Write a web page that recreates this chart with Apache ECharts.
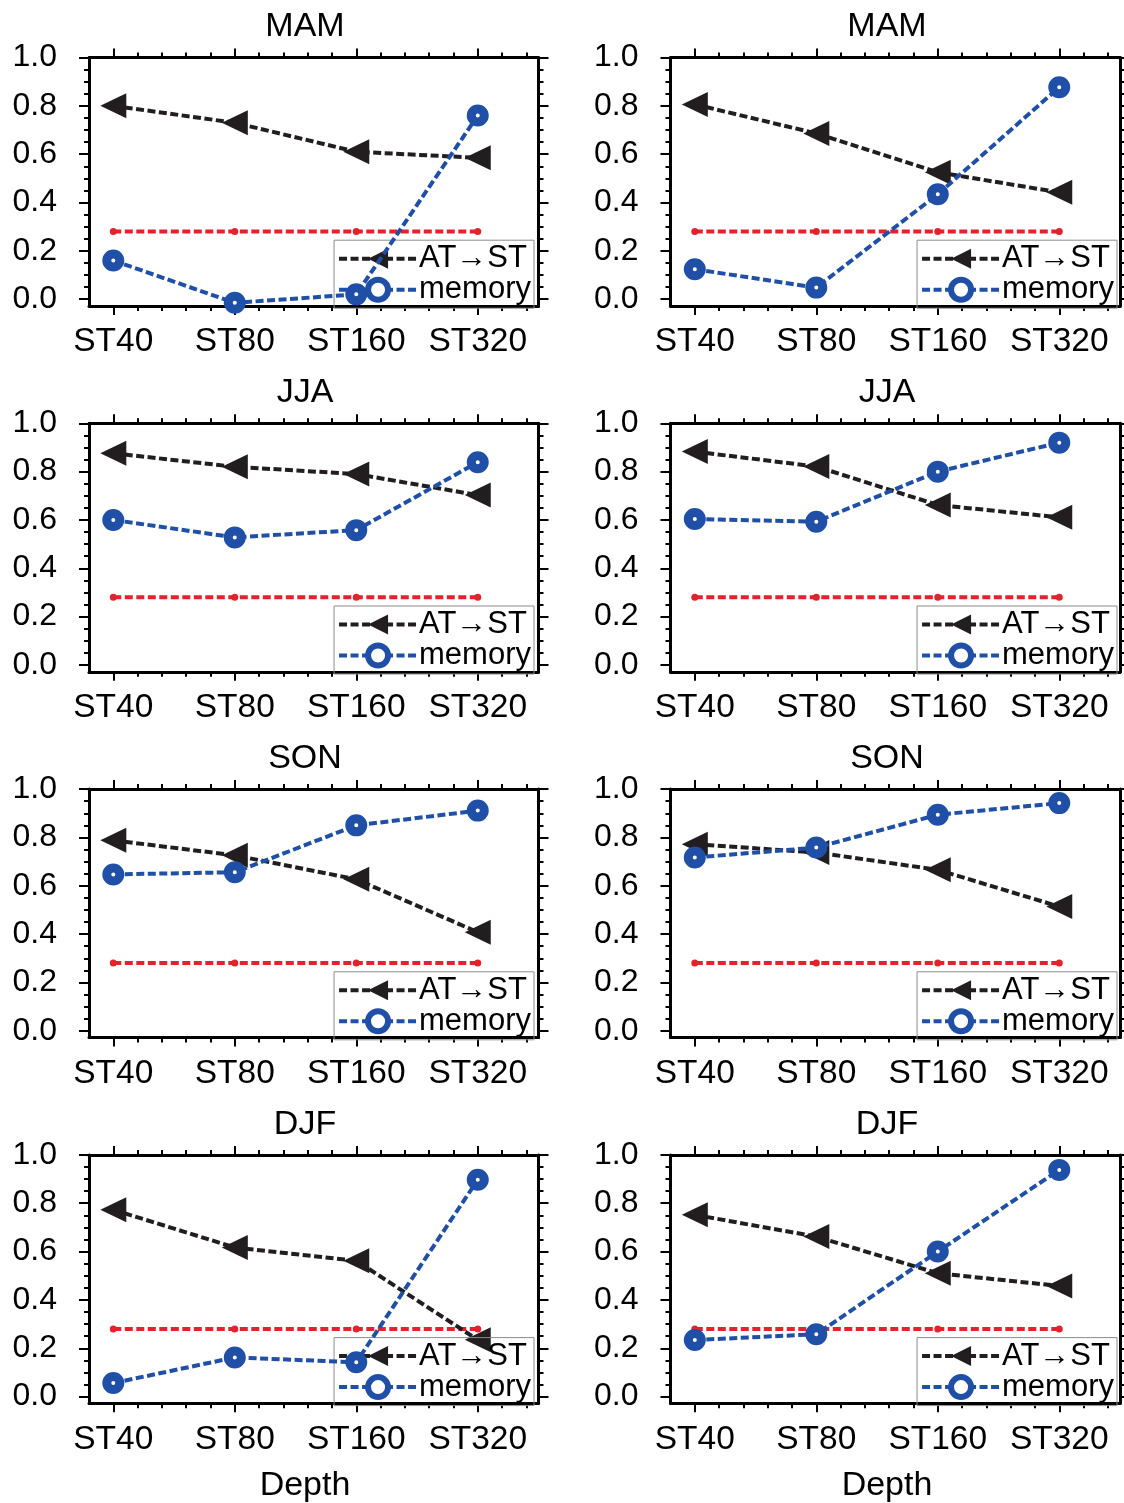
<!DOCTYPE html>
<html>
<head>
<meta charset="utf-8">
<script src="https://cdn.jsdelivr.net/npm/echarts@6/dist/echarts.min.js"></script>
<style>
  html, body { margin: 0; padding: 0; background: #fff; }
  #chart { width: 1124px; height: 1503px; }
</style>
</head>
<body>
<div id="chart"></div>
<script>
// depth categories on the x axis
const categories = ['ST40', 'ST80', 'ST160', 'ST320'];
const yTicks = [0, 0.2, 0.4, 0.6, 0.8, 1.0];
const threshold = [0.28, 0.28, 0.28, 0.28];

// AT->ST and memory per season, left column (a) and right column (b)
const atstMAMa = [0.80, 0.73, 0.61, 0.585];
const memMAMa = [0.16, -0.015, 0.02, 0.76];
const atstMAMb = [0.806, 0.686, 0.525, 0.442];
const memMAMb = [0.124, 0.048, 0.434, 0.877];
const atstJJAa = [0.876, 0.82, 0.79, 0.703];
const memJJAa = [0.60, 0.528, 0.558, 0.839];
const atstJJAb = [0.883, 0.821, 0.662, 0.611];
const memJJAb = [0.604, 0.593, 0.80, 0.92];
const atstSONa = [0.788, 0.726, 0.627, 0.408];
const memSONa = [0.647, 0.656, 0.85, 0.911];
const atstSONb = [0.772, 0.738, 0.666, 0.514];
const memSONb = [0.717, 0.758, 0.894, 0.942];
const atstDJFa = [0.773, 0.617, 0.562, 0.235];
const memDJFa = [0.056, 0.162, 0.142, 0.897];
const atstDJFb = [0.752, 0.662, 0.51, 0.458];
const memDJFb = [0.234, 0.258, 0.60, 0.938];

const panels = [
  { title: 'MAM', atst: atstMAMa, mem: memMAMa },
  { title: 'MAM', atst: atstMAMb, mem: memMAMb },
  { title: 'JJA', atst: atstJJAa, mem: memJJAa },
  { title: 'JJA', atst: atstJJAb, mem: memJJAb },
  { title: 'SON', atst: atstSONa, mem: memSONa },
  { title: 'SON', atst: atstSONb, mem: memSONb },
  { title: 'DJF', atst: atstDJFa, mem: memDJFa },
  { title: 'DJF', atst: atstDJFb, mem: memDJFb }
];

const FONT = '"Liberation Sans", Arial, Helvetica, sans-serif';
const BLACK = '#221e1f';
const BLUE = '#1f4fa6';
const RED = '#e4222b';

const colLeft = [89, 670.5];
const rowTop = [57.5, 423.3, 789.1, 1154.9];
const plotW = 449.5;
const xMin = -0.2, xMax = 3.5;
const yMin = -0.028, yMax = 1.0;
const plotH = (yMax - yMin) * 241.7;

// tick positions
const xMajor = categories.map((c, i) => i);
const xMinor = [];
for (let k = 1; k < 18; k++) { if (k % 5 !== 0) xMinor.push(+(k * 0.2).toFixed(2)); }
const yMinor = [];
for (let k = 1; k < 20; k++) { if (k % 4 !== 0) yMinor.push(+(k * 0.05).toFixed(2)); }

const toPts = arr => arr.map((v, i) => [i, v]);

const grid = [], xAxis = [], yAxis = [], series = [], title = [], legend = [];

function xAx(g, pos, major, labels) {
  return {
    gridIndex: g, type: 'value', min: xMin, max: xMax, position: pos,
    axisLine: { show: major, onZero: false, lineStyle: { color: '#000', width: 3 } },
    axisTick: { show: true, customValues: major ? xMajor : xMinor, length: major ? 9 : 5, lineStyle: { color: '#000', width: 2 } },
    axisLabel: labels ? {
      show: true, customValues: xMajor, margin: 19,
      formatter: v => categories[Math.round(v)],
      color: '#000', fontSize: 33.5, fontFamily: FONT, lineHeight: 34
    } : { show: false },
    splitLine: { show: false }
  };
}
function yAx(g, pos, major, labels) {
  return {
    gridIndex: g, type: 'value', min: yMin, max: yMax, position: pos,
    axisLine: { show: major, onZero: false, lineStyle: { color: '#000', width: 3 } },
    axisTick: { show: true, customValues: major ? yTicks : yMinor, length: major ? 10 : 5, lineStyle: { color: '#000', width: 2 } },
    axisLabel: labels ? {
      show: true, customValues: yTicks, margin: 32,
      formatter: v => v.toFixed(1),
      color: '#000', fontSize: 32, fontFamily: FONT
    } : { show: false },
    splitLine: { show: false }
  };
}

panels.forEach((p, i) => {
  const col = i % 2, row = Math.floor(i / 2);
  const left = colLeft[col], top = rowTop[row];
  grid.push({ left: left, top: top, width: plotW, height: plotH, containLabel: false, outerBoundsMode: 'none' });

  const xi = xAxis.length, yi = yAxis.length;
  xAxis.push(xAx(i, 'bottom', true, true));
  xAxis.push(xAx(i, 'bottom', false, false));
  xAxis.push(xAx(i, 'top', true, false));
  xAxis.push(xAx(i, 'top', false, false));
  yAxis.push(yAx(i, 'left', true, true));
  yAxis.push(yAx(i, 'left', false, false));
  yAxis.push(yAx(i, 'right', true, false));
  yAxis.push(yAx(i, 'right', false, false));

  const center = col === 0 ? 305 : 887;
  title.push({
    text: p.title, left: center, top: top - 47.5, textAlign: 'center', padding: 0,
    textStyle: { fontSize: 34, fontWeight: 'normal', color: '#000', fontFamily: FONT, lineHeight: 34 }
  });
  if (row === 3) {
    title.push({
      text: 'Depth', left: center, top: 1469, textAlign: 'center', padding: 0,
      textStyle: { fontSize: 34, fontWeight: 'normal', color: '#000', fontFamily: FONT, lineHeight: 34 }
    });
  }

  series.push({
    name: 'threshold', type: 'line', xAxisIndex: xi, yAxisIndex: yi,
    data: toPts(threshold), symbol: 'circle', symbolSize: 7, clip: false, z: 2,
    itemStyle: { color: RED },
    lineStyle: { color: RED, width: 4, type: [8, 3.5] },
    silent: true, animation: false
  });
  series.push({
    name: 'AT→ST', type: 'line', xAxisIndex: xi, yAxisIndex: yi,
    data: toPts(p.atst), symbol: 'triangle', symbolSize: [25, 26], symbolRotate: 90, clip: false, z: 3,
    itemStyle: { color: BLACK },
    lineStyle: { color: BLACK, width: 4, type: [8, 3.5] },
    animation: false
  });
  series.push({
    name: 'memory', type: 'line', xAxisIndex: xi, yAxisIndex: yi,
    data: toPts(p.mem), symbol: 'circle', symbolSize: 13, clip: false, z: 4,
    itemStyle: { color: '#fff', borderColor: BLUE, borderWidth: 9 },
    lineStyle: { color: BLUE, width: 4, type: [8, 3.5] },
    animation: false
  });

  legend.push({
    orient: 'vertical',
    right: col === 0 ? 1124 - 534 : 1124 - 1117,
    top: top + 182.7,
    padding: [3, 3, 3, 3],
    itemGap: 0,
    itemWidth: 78,
    itemHeight: 25,
    borderColor: '#8c8c8c',
    borderWidth: 1,
    selectedMode: false,
    data: [
      { name: 'AT→ST', lineStyle: { width: 4 } },
      { name: 'memory', lineStyle: { width: 4 }, itemStyle: { borderWidth: 6 } }
    ],
    textStyle: { fontSize: 31, color: '#000', fontFamily: FONT, lineHeight: 25, padding: [0, 0, 0, -3] }
  });
});

const chart = echarts.init(document.getElementById('chart'), null, { renderer: 'canvas' });
chart.setOption({
  backgroundColor: '#fff',
  animation: false,
  title: title,
  grid: grid,
  xAxis: xAxis,
  yAxis: yAxis,
  legend: legend,
  series: series
});
</script>
</body>
</html>
